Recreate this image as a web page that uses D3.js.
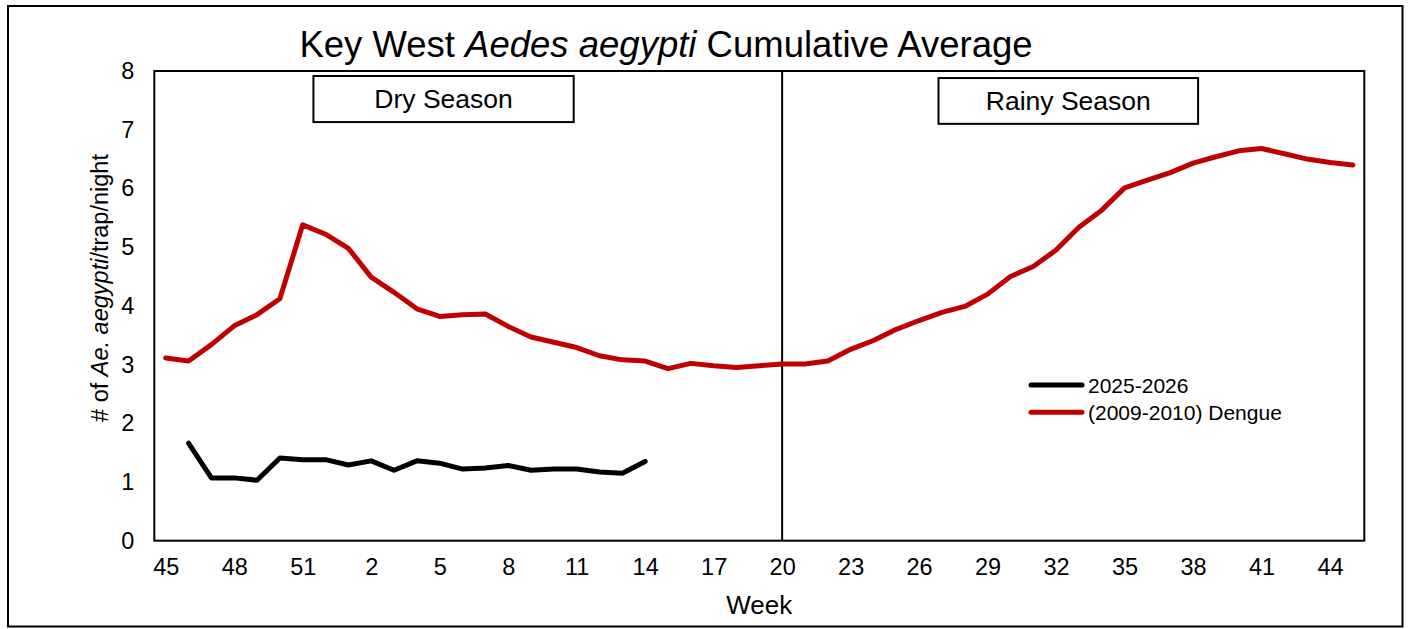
<!DOCTYPE html>
<html>
<head>
<meta charset="utf-8">
<script src="https://cdn.jsdelivr.net/npm/d3@7"></script>
<style>
	body { margin: 0; background: #fff; }
	svg { display: block; font-family: "Liberation Sans", Arial, sans-serif; }
</style>
</head>
<body>
<svg id="chart" width="1409" height="629"></svg>
<script>
// week labels along the x axis (45 of one year through 45 of the next)
var weeks = [45,46,47,48,49,50,51,52,1,2,3,4,5,6,7,8,9,10,11,12,13,14,15,16,17,18,19,20,
	21,22,23,24,25,26,27,28,29,30,31,32,33,34,35,36,37,38,39,40,41,42,43,44,45];

// (2009-2010) Dengue cumulative average
var dengue = [3.11,3.06,3.34,3.66,3.85,4.12,5.38,5.22,4.98,4.49,4.23,3.95,3.82,3.85,3.86,3.65,
	3.47,3.38,3.29,3.15,3.08,3.06,2.93,3.02,2.98,2.95,2.98,3.01,3.01,3.06,3.26,3.41,3.60,3.75,
	3.89,3.99,4.20,4.50,4.67,4.95,5.34,5.63,6.01,6.14,6.27,6.43,6.54,6.64,6.68,6.59,6.50,6.44,6.40];

// 2025-2026 cumulative average, starts at week 46, so far up to week 14
var current = [null,1.66,1.07,1.07,1.03,1.41,1.38,1.38,1.29,1.36,1.20,1.36,1.32,1.22,1.24,1.28,
	1.20,1.22,1.22,1.17,1.15,1.35];

var yTicks = [0,1,2,3,4,5,6,7,8];
var seriesNames = ["2025-2026", "(2009-2010) Dengue"];
var seriesColors = ["#000000", "#C00000"];

var width = 1409, height = 629;
var plot = {l: 154.3, r: 1364.3, t: 71, b: 540.7};

var svg = d3.select("#chart");

// outer border
svg.append("rect")
	.attr("x", 8).attr("y", 6)
	.attr("width", 1394.5).attr("height", 620.5)
	.attr("fill", "none").attr("stroke", "#000").attr("stroke-width", 2);

var idx = weeks.map(function(d, i){ return i; });
var x = d3.scalePoint().domain(idx).range([plot.l, plot.r]).padding(0.5);
// continuous version of the same axis for annotations
var xi = d3.scaleLinear().domain([-0.5, weeks.length - 0.5]).range([plot.l, plot.r]);
var y = d3.scaleLinear().domain([0, 8]).range([plot.b, plot.t]);

// title
var title = svg.append("text")
	.attr("x", 666).attr("y", 57)
	.attr("text-anchor", "middle")
	.attr("font-size", "36.5px")
	.attr("fill", "#000");
title.append("tspan").text("Key West ");
title.append("tspan").attr("font-style", "italic").text("Aedes aegypti");
title.append("tspan").text(" Cumulative Average");

// axes
var xAxis = svg.append("g")
	.attr("transform", "translate(0," + plot.b + ")")
	.call(d3.axisBottom(x)
		.tickValues(idx.filter(function(i){ return i % 3 === 0; }))
		.tickFormat(function(i){ return weeks[i]; })
		.tickSize(0).tickPadding(18));
xAxis.select(".domain").remove();
xAxis.selectAll("text").attr("font-size", "23.5px").attr("fill", "#000").attr("font-family", null);

var yAxis = svg.append("g")
	.attr("transform", "translate(" + plot.l + ",0)")
	.call(d3.axisLeft(y).tickValues(yTicks).tickFormat(d3.format("d")).tickSize(0).tickPadding(20));
yAxis.select(".domain").remove();
yAxis.selectAll("text").attr("font-size", "23.5px").attr("fill", "#000").attr("font-family", null);

// plot frame
svg.append("rect")
	.attr("x", plot.l).attr("y", plot.t)
	.attr("width", plot.r - plot.l).attr("height", plot.b - plot.t)
	.attr("fill", "none").attr("stroke", "#000").attr("stroke-width", 2);

// axis titles
svg.append("text")
	.attr("x", (plot.l + plot.r) / 2).attr("y", 614)
	.attr("text-anchor", "middle")
	.attr("font-size", "26px")
	.text("Week");

var yLab = svg.append("text")
	.attr("transform", "translate(108,288) rotate(-90)")
	.attr("text-anchor", "middle")
	.attr("font-size", "23.5px");
yLab.append("tspan").text("# of ");
yLab.append("tspan").attr("font-style", "italic").text("Ae. aegypti");
yLab.append("tspan").text("/trap/night");

// dry / rainy season divider at week 20
svg.append("line")
	.attr("x1", x(weeks.indexOf(20))).attr("x2", x(weeks.indexOf(20)))
	.attr("y1", plot.t).attr("y2", plot.b)
	.attr("stroke", "#000").attr("stroke-width", 2);

// season boxes
var seasons = [
	{name: "Dry Season", i0: 6.47, i1: 17.87, v0: 7.915, v1: 7.13},
	{name: "Rainy Season", i0: 33.85, i1: 45.22, v0: 7.88, v1: 7.10}
];
var sb = svg.selectAll(".season").data(seasons).enter().append("g").attr("class", "season");
sb.append("rect")
	.attr("x", function(d){ return xi(d.i0); })
	.attr("y", function(d){ return y(d.v0); })
	.attr("width", function(d){ return xi(d.i1) - xi(d.i0); })
	.attr("height", function(d){ return y(d.v1) - y(d.v0); })
	.attr("fill", "#fff").attr("stroke", "#000").attr("stroke-width", 2);
sb.append("text")
	.attr("x", function(d){ return (xi(d.i0) + xi(d.i1)) / 2; })
	.attr("y", function(d){ return (y(d.v0) + y(d.v1)) / 2 + 9; })
	.attr("text-anchor", "middle")
	.attr("font-size", "26.5px")
	.text(function(d){ return d.name; });

// lines
var line = d3.line()
	.defined(function(d){ return d[1] != null; })
	.x(function(d){ return x(d[0]); })
	.y(function(d){ return y(d[1]); });

var seriesData = [current, dengue];
seriesData.forEach(function(vals, k){
	var pts = idx.map(function(i){ return [i, vals[i] == null ? null : vals[i]]; });
	svg.append("path")
		.datum(pts)
		.attr("d", line)
		.attr("fill", "none")
		.attr("stroke", seriesColors[k])
		.attr("stroke-width", 5)
		.attr("stroke-linejoin", "round")
		.attr("stroke-linecap", "round");
});

// legend
var leg = svg.selectAll(".legend").data(seriesNames).enter().append("g")
	.attr("class", "legend")
	.attr("transform", function(d, i){ return "translate(1031," + (385 + i * 27.3) + ")"; });
leg.append("line")
	.attr("x1", 0).attr("x2", 51)
	.attr("stroke", function(d, i){ return seriesColors[i]; })
	.attr("stroke-width", 5)
	.attr("stroke-linecap", "round");
leg.append("text")
	.attr("x", 57).attr("y", 7.5)
	.attr("font-size", "21px")
	.text(function(d){ return d; });
</script>
</body>
</html>
